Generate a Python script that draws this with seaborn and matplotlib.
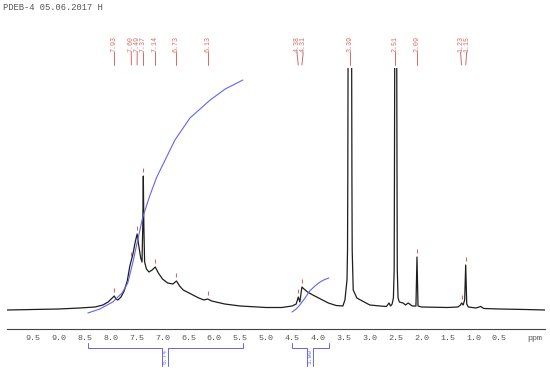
import numpy as np
import pandas as pd
import matplotlib
matplotlib.use("Agg")
import matplotlib.pyplot as plt
import matplotlib.transforms as mtransforms
import seaborn as sns

# ── Data ──────────────────────────────────────────────────────────────────────

spec_ppm = [10.00, 9.50, 9.00, 8.60, 8.30, 8.15, 8.05, 7.97, 7.93, 7.90, 7.86, 7.80,
            7.74, 7.68, 7.63, 7.60, 7.57, 7.53, 7.49, 7.46, 7.42, 7.395, 7.38, 7.37,
            7.36, 7.345, 7.31, 7.26, 7.20, 7.14, 7.08, 7.00, 6.90, 6.80, 6.73, 6.67,
            6.60, 6.45, 6.30, 6.20, 6.13, 6.05, 5.80, 5.50, 5.00, 4.70, 4.50, 4.42,
            4.38, 4.35, 4.31, 4.27, 4.20, 4.10, 3.95, 3.80, 3.65, 3.52, 3.48, 3.44,
            3.43, 3.425, 3.42, 3.40, 3.385, 3.37, 3.35, 3.345, 3.34, 3.32, 3.25, 3.18,
            3.00, 2.80, 2.68, 2.63, 2.60, 2.57, 2.545, 2.53, 2.525, 2.52, 2.51, 2.50,
            2.49, 2.48, 2.475, 2.47, 2.455, 2.43, 2.36, 2.31, 2.26, 2.18, 2.11, 2.09,
            2.07, 2.00, 1.50, 1.30, 1.25, 1.23, 1.20, 1.17, 1.15, 1.13, 1.10, 0.95,
            0.86, 0.80, 0.50, 0.00, -0.38]
spec_int = [0, 0.5, 1, 2, 3, 5, 8, 12, 14, 11, 10, 13,
            19, 29, 44, 50, 56, 67, 76, 65, 52, 48, 85, 134,
            85, 48, 41, 38, 40, 43, 37, 31, 27, 26, 29, 24,
            20, 16, 12, 10, 11, 9, 6, 4, 2.5, 2.5, 4, 6,
            13, 8, 23, 21, 18, 15, 11, 7, 4.5, 4, 10, 30,
            60, 130, 240, 600, 1000, 600, 240, 130, 60, 20, 12, 10,
            5, 4, 3.5, 7, 4, 6, 12, 40, 130, 240, 600, 1000,
            600, 240, 130, 40, 12, 8, 7, 5, 7, 4, 4, 53,
            4, 3, 2.5, 3, 5, 7, 5, 10, 45, 6, 3, 2,
            3.5, 1.5, 1, 0.5, 0]

peak_ppm = [7.93, 7.60, 7.49, 7.37, 7.14, 6.73, 6.13, 4.38, 4.31, 3.39, 2.51, 2.09, 1.23, 1.15]
peak_labels = ["7.93", "7.60", "7.49", "7.37", "7.14", "6.73", "6.13",
               "4.38", "4.31", "3.39", "2.51", "2.09", "1.23", "1.15"]

int1_ppm = [8.44, 8.21, 7.96, 7.78, 7.67, 7.57, 7.47, 7.38, 7.24, 7.11, 6.76, 6.47, 6.08, 5.79, 5.45]
int1_val = [-3, 1, 8, 17, 27, 48, 72, 93, 115, 133, 170, 192, 210, 221, 230]
int2_ppm = [4.50, 4.42, 4.35, 4.25, 4.16, 4.06, 3.96, 3.87, 3.79]
int2_val = [-2, 1, 5, 12, 19, 24, 28, 30.5, 32]
int_labels = ["6.74", "1.00"]

title = "PDEB-4 05.06.2017 H"

# ── Setup ─────────────────────────────────────────────────────────────────────

sns.set_style("white")
plt.rcParams["font.family"] = ["Liberation Mono", "DejaVu Sans Mono"]

RED = "#d06a6a"
BLUE = "#6464f0"
GREY = "#555555"

fig = plt.figure(figsize=(5.5, 3.71), dpi=100)
ax = fig.add_axes([7 / 550, 42 / 371, 538 / 550, 261 / 371])

df = pd.DataFrame({"ppm": spec_ppm, "intensity": spec_int})
sns.lineplot(data=df, x="ppm", y="intensity", color="#1e1e1e", lw=0.9,
             estimator=None, sort=False, ax=ax)

# integral curves
for ip, iv in [(int1_ppm, int1_val), (int2_ppm, int2_val)]:
    sns.lineplot(x=ip, y=iv, color=BLUE, lw=0.8, estimator=None, sort=False, ax=ax)

ax.set_xlim(10.0, -0.38)
ax.set_ylim(-19, 242)
ax.set_xlabel("")
ax.set_ylabel("")
ax.set_yticks([])
for s in ["top", "left", "right"]:
    ax.spines[s].set_visible(False)
ax.spines["bottom"].set_color("#444444")
ax.spines["bottom"].set_linewidth(0.8)

ax.set_xticks(np.arange(0.5, 9.6, 0.5))
ax.set_xticklabels([f"{v:.1f}" for v in np.arange(0.5, 9.6, 0.5)])
ax.set_xticks(np.arange(-0.3, 10.0, 0.1), minor=True)
ax.tick_params(axis="x", which="major", length=3, width=0.7, color="#444444",
               pad=1.5, labelsize=6, labelcolor=GREY)
ax.tick_params(axis="x", which="minor", length=1.8, width=0.6, color="#444444")

# ── Annotations ───────────────────────────────────────────────────────────────

def ay(py):
    # figure pixel row -> axes fraction
    return (329 - py) / 261

trans = mtransforms.blended_transform_factory(ax.transData, ax.transAxes)

ax.text((535 - 7) / 538, ay(338), "ppm", transform=ax.transAxes,
        ha="center", va="center", fontsize=6, color=GREY)
fig.text(3 / 550, 1 - 8 / 371, title, ha="left", va="center", fontsize=6.3, color=GREY)

# spread crowded peak labels
labs = list(peak_ppm)
gap = 0.115
for _ in range(50):
    for i in range(len(labs) - 1):
        d = labs[i] - labs[i + 1]
        if d < gap:
            s = (gap - d) / 2
            labs[i] += s
            labs[i + 1] -= s

ppm_asc = np.array(spec_ppm)[::-1]
int_asc = np.array(spec_int)[::-1]
for p, lp, txt in zip(peak_ppm, labs, peak_labels):
    ax.text(lp, ay(44), txt, transform=trans, rotation=90, ha="center", va="center",
            fontsize=4.8, color=RED, clip_on=False)
    ax.plot([lp, lp, p], [ay(52), ay(54), ay(65)], transform=trans, color=RED,
            lw=0.7, clip_on=False)
    h = np.interp(p, ppm_asc, int_asc)
    if h + 10 < 242:
        ax.vlines(p, h + 4, h + 8, color=RED, lw=0.8)

# integration brackets under the axis
w = 3 / 51.8
for ip, lab in zip([int1_ppm, int2_ppm], int_labels):
    p0, p1 = ip[0], ip[-1]
    pc = (p0 + p1) / 2
    ax.plot([p0, p0, pc + w, pc + w], [ay(343), ay(348), ay(348), ay(366)],
            transform=trans, color=BLUE, lw=0.7, clip_on=False)
    ax.plot([p1, p1, pc - w, pc - w], [ay(343), ay(348), ay(348), ay(366)],
            transform=trans, color=BLUE, lw=0.7, clip_on=False)
    ax.text(pc, ay(357), lab, transform=trans, rotation=90, ha="center", va="center",
            fontsize=4.5, color=BLUE, clip_on=False)

fig.savefig("out.png", dpi=100)
